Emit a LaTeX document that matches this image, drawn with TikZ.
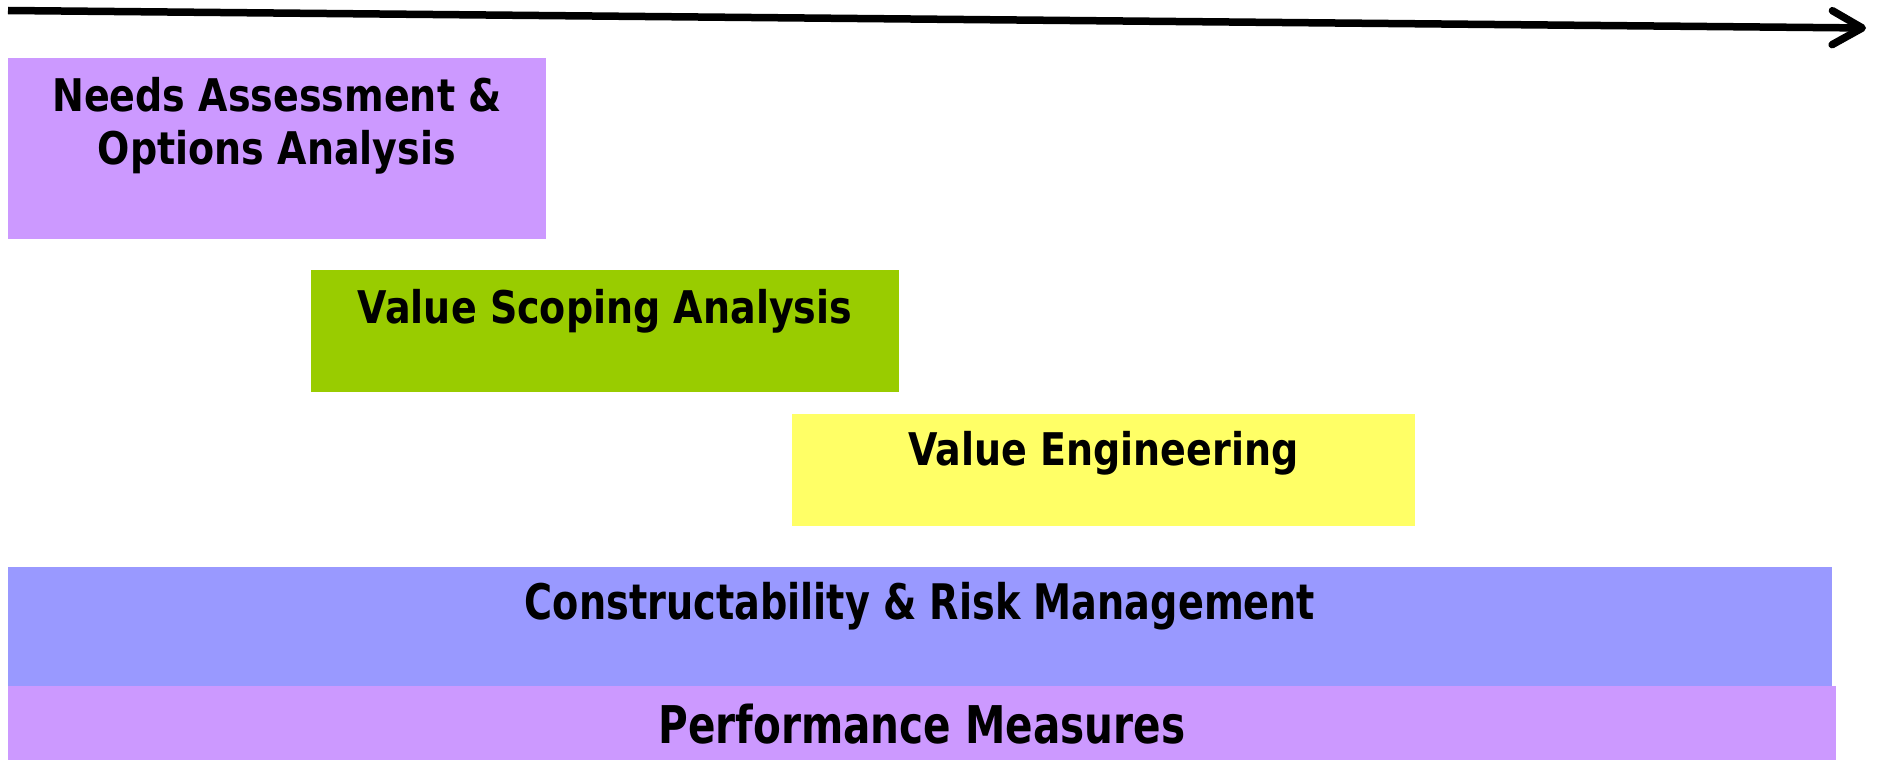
\documentclass[tikz,border=0pt]{standalone}
\usepackage{fontspec}
\setmainfont{DejaVu Sans}
\newfontfamily\headfont[FakeStretch=0.845]{DejaVu Sans}
\newfontfamily\basefont[FakeStretch=0.78]{DejaVu Sans}
\usetikzlibrary{arrows.meta}

\definecolor{purp}{RGB}{204,153,255}
\definecolor{lime}{RGB}{153,204,0}
\definecolor{lemon}{RGB}{255,255,102}
\definecolor{lilac}{RGB}{153,153,255}

\begin{document}
\begin{tikzpicture}
  [x=1pt,y=-1pt,
   box/.style={rectangle,inner sep=0pt},
   lbl/.style={anchor=north,inner sep=0pt,align=center,
     font=\headfont\bfseries\fontsize{45}{53}\selectfont},
   lowlbl/.style={anchor=north,inner sep=0pt,align=center,
     font=\basefont\bfseries\fontsize{#1}{#1}\selectfont}]
  \useasboundingbox (0,0) rectangle (1877,760);

  \node[box,fill=purp,minimum width=538pt,minimum height=181pt,
    label={[lbl,name=t1,yshift=-19.5pt]north:Needs Assessment \&\\Options Analysis}] (n1) at (277,148.5) {};
  \node[box,fill=lime,minimum width=588pt,minimum height=122pt,
    label={[lbl,name=t2,yshift=-19.5pt]north:Value Scoping Analysis}] (n2) at (605,331) {};
  \node[box,fill=lemon,minimum width=623pt,minimum height=112pt,
    label={[lbl,name=t3,yshift=-17.5pt]north:Value Engineering}] (n3) at (1103.5,470) {};
  \node[box,fill=lilac,minimum width=1824pt,minimum height=119pt,
    label={[lowlbl=49,name=t4,yshift=-15.5pt]north:Constructability \& Risk Management}] (n4) at (920,626.5) {};
  \node[box,fill=purp,minimum width=1828pt,minimum height=74pt,
    label={[lowlbl=52,name=t5,yshift=-18pt]north:Performance Measures}] (n5) at (922,723) {};

  \coordinate (s) at (8,10.5);
  \coordinate (e) at (1866,28);
  \draw[line width=7.5pt,-{Straight Barb[length=30pt,width=34pt,round]}] (s) -- (e);
\end{tikzpicture}
\end{document}
